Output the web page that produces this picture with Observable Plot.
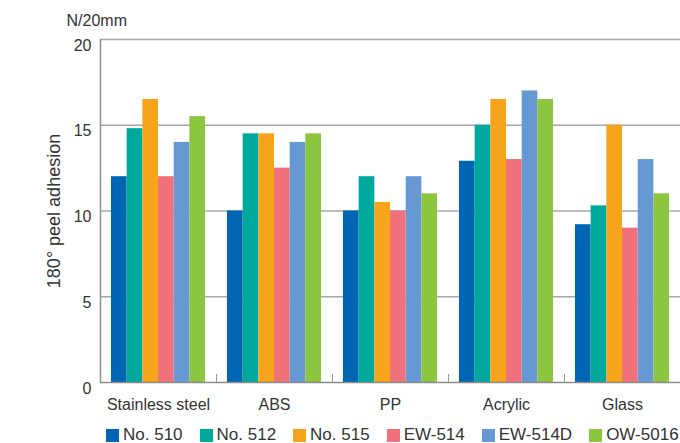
<!DOCTYPE html>
<html>
<head>
<meta charset="utf-8">
<script src="https://cdn.jsdelivr.net/npm/d3@7"></script>
<script src="https://cdn.jsdelivr.net/npm/@observablehq/plot@0.6"></script>
<style>
  body { margin: 0; background: #fff; font-family: "Liberation Sans", Arial, Helvetica, sans-serif; color: #333; }
  #legend { display: flex; align-items: center; height: 14px; margin-top: 8px; padding-left: 106px; font-size: 17px; white-space: nowrap; }
  .item { display: flex; align-items: center; margin-right: 17px; white-space: nowrap; flex-shrink: 0; }
  .item:last-child { margin-right: 0; }
  .sw { width: 13px; height: 13px; margin-right: 4px; display: inline-block; }
</style>
</head>
<body>
<div id="chart"></div>
<div id="legend"></div>
<script>
const categories = ["Stainless steel", "ABS", "PP", "Acrylic", "Glass"];
const series = ["No. 510", "No. 512", "No. 515", "EW-514", "EW-514D", "OW-5016"];
const colors = ["#0066b3", "#00a99d", "#f7a41d", "#f0717a", "#6699d3", "#8cc63f"];
const no510 = [12, 10, 10, 12.9, 9.2];
const no512 = [14.8, 14.5, 12, 15, 10.3];
const no515 = [16.5, 14.5, 10.5, 16.5, 15];
const ew514 = [12, 12.5, 10, 13, 9];
const ew514d = [14, 14, 12, 17, 13];
const ow5016 = [15.5, 14.5, 11, 16.5, 11];
const yTicks = [0, 5, 10, 15, 20];
const unitLabel = "N/20mm";
const yLabel = "180° peel adhesion";

const seriesValues = [no510, no512, no515, ew514, ew514d, ow5016];
const rows = [];
categories.forEach((c, ci) => {
  series.forEach((s, si) => {
    rows.push({category: c, series: s, i: si, value: seriesValues[si][ci]});
  });
});

const xDomain = [-0.7, series.length + 0.7];
const first = categories[0];

const chart = Plot.plot({
  width: 680,
  height: 420,
  marginTop: 39,
  marginBottom: 38,
  marginLeft: 100,
  marginRight: 0,
  style: {fontSize: "16px", fontFamily: "'Liberation Sans', Arial, Helvetica, sans-serif", color: "#333", background: "#fff"},
  fx: {domain: categories, padding: 0},
  x: {domain: xDomain, axis: null},
  y: {domain: [0, 20]},
  color: {domain: series, range: colors},
  marks: [
    Plot.gridY(yTicks.filter(t => t > 0), {stroke: "#a6a6a6", strokeOpacity: 1, strokeWidth: 1.5}),
    Plot.rect(rows, {fx: "category", x1: "i", x2: d => d.i + 1, y1: 0, y2: "value", fill: "series"}),
    Plot.ruleY([0], {stroke: "#8c8c8c", strokeWidth: 1.5}),
    Plot.ruleX([first], {fx: d => d, x: () => xDomain[0], y1: 0, y2: 20, stroke: "#8c8c8c", strokeWidth: 1.5}),
    Plot.ruleX(categories.slice(1), {fx: d => d, x: () => xDomain[0], y1: 0, y2: 0.47, stroke: "#9a9a9a", strokeWidth: 1}),
    Plot.axisY({ticks: yTicks, tickSize: 0, tickPadding: 9, dy: 6, label: null, fontSize: 16}),
    Plot.axisFx({anchor: "bottom", tickSize: 0, tickPadding: 16, label: null, fontSize: 16}),
    Plot.text([unitLabel], {fx: () => first, frameAnchor: "top-left", dx: -34, dy: -19, textAnchor: "start", lineAnchor: "middle", fontSize: 16, fill: "#333"}),
    Plot.text([yLabel], {fx: () => first, frameAnchor: "left", dx: -46, rotate: -90, textAnchor: "middle", lineAnchor: "middle", fontSize: 18, fill: "#333"})
  ]
});
document.getElementById("chart").appendChild(chart);

const legend = document.getElementById("legend");
series.forEach((s, i) => {
  const item = document.createElement("span");
  item.className = "item";
  const sw = document.createElement("span");
  sw.className = "sw";
  sw.style.background = colors[i];
  item.appendChild(sw);
  item.appendChild(document.createTextNode(s));
  legend.appendChild(item);
});
</script>
</body>
</html>
